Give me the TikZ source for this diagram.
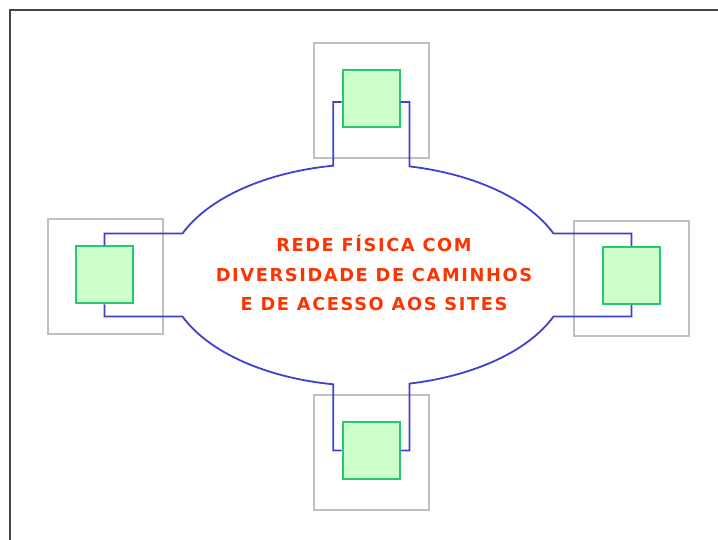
\documentclass[tikz,border=0pt]{standalone}
\usepackage{fontspec}
\newfontfamily\labelfont[LetterSpace=9]{DejaVu Sans}
\usetikzlibrary{calc}
\definecolor{framegray}{RGB}{70,70,70}
\definecolor{sitegray}{RGB}{192,192,192}
\definecolor{nodegreen}{RGB}{40,200,110}
\definecolor{nodefill}{RGB}{204,255,204}
\definecolor{linkblue}{RGB}{64,64,208}
\definecolor{labelred}{RGB}{255,51,0}
\begin{document}
\begin{tikzpicture}[x=1pt,y=1pt,
  frame/.style={draw=framegray, line width=2pt},
  sitebox/.style={draw=sitegray, line width=2pt, minimum width=115pt, minimum height=115pt, inner sep=0pt},
  nodebox/.style={draw=nodegreen, fill=nodefill, line width=2pt, minimum width=57pt, minimum height=57pt, inner sep=0pt},
  link/.style={draw=linkblue, line width=1.8pt},
  lbl/.style={text=labelred, font=\labelfont\bfseries\fontsize{17.8}{29.5}\selectfont, align=center}]
\useasboundingbox (0,0) rectangle (718,540);
\draw[frame] (9.7,-10) rectangle (730,529.5);
% sites
\node[sitebox] (topsite) at (371,439.5) {};
\node[nodebox] (topnode) at (371,441.5) {};
\node[sitebox] (leftsite) at (105,263) {};
\node[nodebox] (leftnode) at (104.5,265) {};
\node[sitebox] (rightsite) at (631.5,261.5) {};
\node[nodebox] (rightnode) at (631.5,264.5) {};
\node[sitebox] (bottomsite) at (371,87) {};
\node[nodebox] (bottomnode) at (371,89.5) {};
% ellipse points
\coordinate (E) at (368,265);
\coordinate (e100) at ($(E)+(100:200 and 111)$);
\coordinate (e78) at ($(E)+(78:200 and 111)$);
\coordinate (em100) at ($(E)+(-100:200 and 111)$);
\coordinate (em22) at ($(E)+(-22:200 and 111)$);
% links
\draw[link] ([yshift=-3.5pt]topnode.west) -| (e100) arc[start angle=100, end angle=158, x radius=200, y radius=111] -| (leftnode.north);
\draw[link] ([yshift=-3.5pt]topnode.east) -| (e78) arc[start angle=78, end angle=22, x radius=200, y radius=111] -| (rightnode.north);
\draw[link] (bottomnode.west) -| (em100) arc[start angle=-100, end angle=-158, x radius=200, y radius=111] -| (leftnode.south);
\draw[link] (rightnode.south) |- (em22) arc[start angle=-22, end angle=-78, x radius=200, y radius=111] |- (bottomnode.east);
% label
\node[lbl] (title) at (374,267) {REDE FÍSICA COM\\DIVERSIDADE DE CAMINHOS\\E DE ACESSO AOS SITES};
\end{tikzpicture}
\end{document}
